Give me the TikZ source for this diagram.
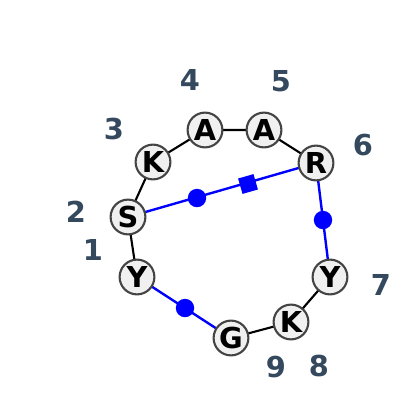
\documentclass[tikz,border=0pt]{standalone}
\usepackage{fontspec}
\setmainfont{DejaVu Sans}
\definecolor{numc}{HTML}{34495E}
\definecolor{nodefill}{HTML}{F0F0F0}
\definecolor{nodeedge}{HTML}{444444}
\begin{document}
\begin{tikzpicture}[x=0.025cm,y=-0.025cm,
  res/.style={circle,draw=nodeedge,fill=nodefill,line width=1.5pt,minimum size=0.87cm,inner sep=0pt,font=\fontsize{20.5}{20.5}\selectfont\bfseries},
  num/.style={text=numc,font=\fontsize{20.5}{20.5}\selectfont\bfseries},
  bb/.style={black,line width=1.5pt},
  bl/.style={blue,line width=1.7pt},
  dot/.style={circle,fill=blue,inner sep=0pt,minimum size=0.46cm},
  sq/.style={rectangle,fill=blue,inner sep=0pt,minimum size=0.4cm}]
\useasboundingbox (0,0) rectangle (400,410);
\draw[bb] (137,277) coordinate (c1) -- (128,217) coordinate (c2);
\path (153,162) coordinate (c3) (205,130) coordinate (c4) (264,130) coordinate (c5)
      (316,163) coordinate (c6) (330,277) coordinate (c7) (291,322) coordinate (c8) (231,338) coordinate (c9);
\draw[bb] (c2) -- (c3) -- (c4) -- (c5) -- (c6);
\draw[bb] (c7) -- (c8) -- (c9);
\draw[bl] (c2) -- (c6);
\draw[bl] (c6) -- (c7);
\draw[bl] (c1) -- (c9);
\node[dot] (d1) at (197,198) {};
\node[sq,rotate=16] (s1) at (248,184) {};
\node[dot] (d2) at (323,220) {};
\node[dot] (d3) at (185,308) {};
\node[res] (n1) at (c1) {Y};
\node[res] (n2) at (c2) {S};
\node[res] (n3) at (c3) {K};
\node[res] (n4) at (c4) {A};
\node[res] (n5) at (c5) {A};
\node[res] (n6) at (c6) {R};
\node[res] (n7) at (c7) {Y};
\node[res] (n8) at (c8) {K};
\node[res] (n9) at (c9) {G};
\node[num] (l1) at (93,250) {1};
\node[num] (l2) at (76,212) {2};
\node[num] (l3) at (114,129) {3};
\node[num] (l4) at (190,80) {4};
\node[num] (l5) at (281,81) {5};
\node[num] (l6) at (363,145) {6};
\node[num] (l7) at (381,285) {7};
\node[num] (l8) at (319,366) {8};
\node[num] (l9) at (276,367) {9};
\end{tikzpicture}
\end{document}
